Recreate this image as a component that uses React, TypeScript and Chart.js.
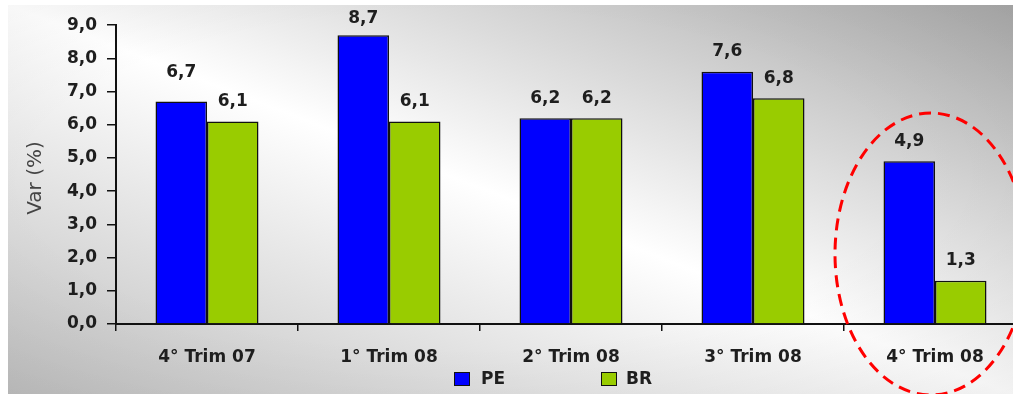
import { useEffect, useRef } from 'react';
import { Chart, registerables } from 'chart.js';

Chart.register(...registerables);

// Quarterly variation (%) for PE and BR
const categories = ['4° Trim 07', '1° Trim 08', '2° Trim 08', '3° Trim 08', '4° Trim 08'];
const peValues = [6.7, 8.7, 6.2, 7.6, 4.9];
const brValues = [6.1, 6.1, 6.2, 6.8, 1.3];
const seriesNames = ['PE', 'BR'];
const seriesColors = ['#0000ff', '#99cc00'];
const yMin = 0;
const yMax = 9;
const yStep = 1;
const yTitle = 'Var (%)';

const FONT = '"DejaVu Sans", Verdana, sans-serif';
const fmt = (v: number) => Number(v).toFixed(1).replace('.', ',');

const CANVAS_W = 1030;
const CANVAS_H = 389;

export default function App() {
  const ref = useRef<HTMLCanvasElement>(null);

  useEffect(() => {
    const canvas = ref.current;
    if (!canvas) return;

    const valueLabels = {
      id: 'valueLabels',
      afterDatasetsDraw(chart: any) {
        const ctx = chart.ctx;
        ctx.save();
        ctx.font = `bold 17px ${FONT}`;
        ctx.fillStyle = '#1e1e1e';
        ctx.textAlign = 'center';
        ctx.textBaseline = 'middle';
        chart.data.datasets.forEach((ds: any, di: number) => {
          const meta = chart.getDatasetMeta(di);
          meta.data.forEach((bar: any, i: number) => {
            const lift = di === 0 && i === 0 ? 29 : 20;
            const y = Math.max(bar.y - lift, 14);
            ctx.fillText(fmt(ds.data[i]), bar.x, y);
          });
        });
        ctx.restore();
      },
    };

    const extras = {
      id: 'extras',
      afterDraw(chart: any) {
        const ctx = chart.ctx;
        ctx.save();

        // rotated y-axis title
        ctx.save();
        ctx.translate(28, 173);
        ctx.rotate(-Math.PI / 2);
        ctx.font = `20px ${FONT}`;
        ctx.fillStyle = '#444444';
        ctx.textAlign = 'center';
        ctx.textBaseline = 'middle';
        ctx.fillText(yTitle, 0, 0);
        ctx.restore();

        // legend
        const legendItems = [
          { box: 446, text: 473 },
          { box: 593, text: 618 },
        ];
        ctx.font = `bold 17px ${FONT}`;
        ctx.textAlign = 'left';
        ctx.textBaseline = 'middle';
        legendItems.forEach((it, i) => {
          ctx.fillStyle = seriesColors[i];
          ctx.fillRect(it.box, 367, 16, 14);
          ctx.strokeStyle = '#111111';
          ctx.lineWidth = 1;
          ctx.strokeRect(it.box + 0.5, 367.5, 15, 13);
          ctx.fillStyle = '#1e1e1e';
          ctx.fillText(seriesNames[i], it.text, 375);
        });

        // dashed highlight around the last quarter
        const xs = chart.scales.x;
        const cx = xs.getPixelForValue(categories.length - 1) - 4;
        ctx.beginPath();
        ctx.ellipse(cx, 249, 96, 141, 0, 0, Math.PI * 2);
        ctx.setLineDash([12, 7]);
        ctx.lineWidth = 3;
        ctx.strokeStyle = '#ff0000';
        ctx.stroke();

        ctx.restore();
      },
    };

    const chart = new Chart(canvas, {
      type: 'bar',
      data: {
        labels: categories,
        datasets: [
          {
            label: seriesNames[0],
            data: peValues,
            backgroundColor: seriesColors[0],
            borderColor: '#111111',
            borderWidth: 1.5,
            categoryPercentage: 0.566,
            barPercentage: 1,
          },
          {
            label: seriesNames[1],
            data: brValues,
            backgroundColor: seriesColors[1],
            borderColor: '#111111',
            borderWidth: 1.5,
            categoryPercentage: 0.566,
            barPercentage: 1,
          },
        ],
      },
      options: {
        responsive: false,
        animation: false,
        layout: { padding: { top: 19, right: 12, left: 0, bottom: 0 } },
        plugins: {
          legend: { display: false },
          tooltip: { enabled: false },
        },
        scales: {
          x: {
            offset: true,
            grid: {
              offset: true,
              drawOnChartArea: false,
              tickLength: 7,
              color: '#111111',
              lineWidth: 1.5,
            },
            border: { color: '#111111', width: 2 },
            ticks: {
              font: { family: FONT, size: 17, weight: 'bold' },
              color: '#1e1e1e',
              padding: 16,
              maxRotation: 0,
              autoSkip: false,
            },
            afterFit: (s: any) => {
              s.height = 70;
            },
          },
          y: {
            min: yMin,
            max: yMax,
            ticks: {
              stepSize: yStep,
              callback: (v: any) => fmt(v),
              font: { family: FONT, size: 17, weight: 'bold' },
              color: '#1e1e1e',
              padding: 10,
            },
            grid: {
              drawOnChartArea: false,
              tickLength: 9,
              color: '#111111',
              lineWidth: 1.5,
            },
            border: { color: '#111111', width: 2 },
            afterFit: (s: any) => {
              s.width = 108;
            },
          },
        },
      },
      plugins: [valueLabels, extras],
    } as any);

    return () => chart.destroy();
  }, []);

  return (
    <div
      style={{
        position: 'absolute',
        left: 8,
        top: 5,
        width: 1005,
        height: 389,
        overflow: 'hidden',
        background:
          'radial-gradient(ellipse at 45% 45%, rgba(255,255,255,0) 55%, rgba(0,0,0,0.05) 100%), linear-gradient(to top right, #bdbdbd 0%, #ffffff 50%, #a8a8a8 100%)',
      }}
    >
      <canvas
        ref={ref}
        width={CANVAS_W}
        height={CANVAS_H}
        style={{ display: 'block', width: CANVAS_W, height: CANVAS_H }}
      />
    </div>
  );
}
